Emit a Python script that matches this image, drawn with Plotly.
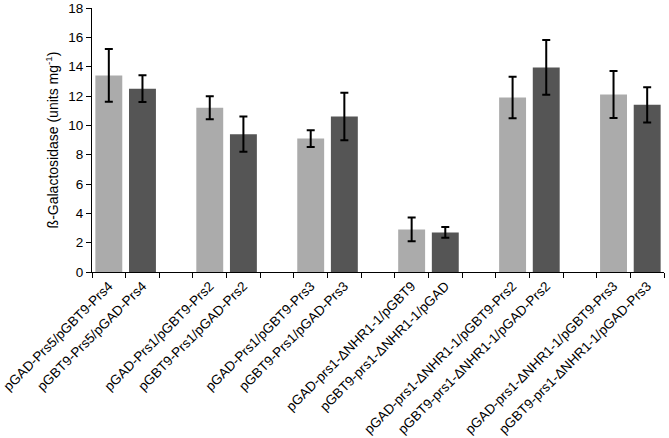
import plotly.graph_objects as go

light_labels = ["pGAD-Prs5/pGBT9-Prs4", "pGAD-Prs1/pGBT9-Prs2", "pGAD-Prs1/pGBT9-Prs3",
                "pGAD-prs1-ΔNHR1-1/pGBT9", "pGAD-prs1-ΔNHR1-1/pGBT9-Prs2", "pGAD-prs1-ΔNHR1-1/pGBT9-Prs3"]
dark_labels = ["pGBT9-Prs5/pGAD-Prs4", "pGBT9-Prs1/pGAD-Prs2", "pGBT9-Prs1/pGAD-Prs3",
               "pGBT9-prs1-ΔNHR1-1/pGAD", "pGBT9-prs1-ΔNHR1-1/pGAD-Prs2", "pGBT9-prs1-ΔNHR1-1/pGAD-Prs3"]
light_values = [13.4, 11.2, 9.1, 2.9, 11.9, 12.1]
light_errors = [1.8, 0.78, 0.57, 0.81, 1.42, 1.6]
dark_values = [12.5, 9.4, 10.6, 2.7, 13.95, 11.4]
dark_errors = [0.91, 1.2, 1.62, 0.37, 1.87, 1.2]

n = len(light_labels)
light_x = [3 * i for i in range(n)]
dark_x = [3 * i + 1 for i in range(n)]

fig = go.Figure()
fig.add_trace(go.Bar(
    x=light_x, y=light_values, width=0.8,
    marker=dict(color="#ABABAB", line=dict(width=0)),
    error_y=dict(type="data", array=light_errors, color="black", thickness=2, width=4),
    showlegend=False,
))
fig.add_trace(go.Bar(
    x=dark_x, y=dark_values, width=0.8,
    marker=dict(color="#555555", line=dict(width=0)),
    error_y=dict(type="data", array=dark_errors, color="black", thickness=2, width=4),
    showlegend=False,
))

tickvals = []
ticktext = []
for i in range(n):
    tickvals += [light_x[i], dark_x[i]]
    ticktext += [light_labels[i], dark_labels[i]]

fig.update_layout(
    width=669, height=438,
    margin=dict(l=92, r=5, t=8, b=166),
    paper_bgcolor="white", plot_bgcolor="white",
    barmode="overlay",
    font=dict(family="Liberation Sans, Arial, sans-serif", size=13, color="black"),
    xaxis=dict(
        range=[-0.5, 3 * n - 1.5], automargin=False,
        tickvals=tickvals, ticktext=ticktext, tickangle=-45,
        ticks="", showline=True, linecolor="black", linewidth=1,
        showgrid=False, zeroline=False,
        tickfont=dict(size=13.5),
        minor=dict(ticks="outside", tick0=-0.5, dtick=1, ticklen=5, tickcolor="black", tickwidth=1, showgrid=False),
    ),
    yaxis=dict(
        range=[0, 18], dtick=2, ticks="outside", ticklen=5, tickcolor="black",
        showline=True, linecolor="black", linewidth=1, automargin=False,
        showgrid=False, zeroline=False,
        tickfont=dict(size=13.5),
        title=dict(text="ß-Galactosidase (units mg<sup>-1</sup>)", font=dict(size=14), standoff=6),
    ),
)

fig.write_html("out.html", config={"displayModeBar": False},
               post_script="document.body.style.margin='0px';document.body.style.overflow='hidden';")
